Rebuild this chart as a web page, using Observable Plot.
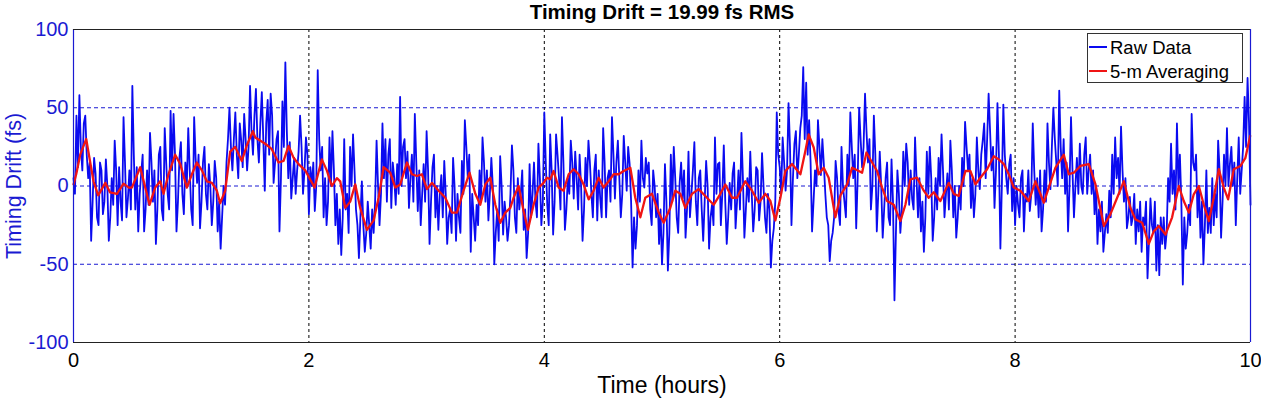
<!DOCTYPE html>
<html>
<head>
<meta charset="utf-8">
<script src="https://cdn.jsdelivr.net/npm/d3@7"></script>
<script src="https://cdn.jsdelivr.net/npm/@observablehq/plot@0.6"></script>
<style>
  body { margin: 0; background: #fff; }
  #wrap { position: relative; width: 1261px; height: 399px; overflow: hidden; font-family: "Liberation Sans", Arial, sans-serif; }
  #legend { position: absolute; left: 1087px; top: 33px; width: 156px; height: 50px; box-sizing: border-box; border: 1px solid #333; background: #fff; }
  .lg-line { position: absolute; left: 1px; width: 18px; height: 2px; }
  .lg-text { position: absolute; left: 22px; font-size: 18.5px; line-height: 20px; color: #000; white-space: nowrap; }
</style>
</head>
<body>
<div id="wrap">
  <div id="chart"></div>
  <div id="legend">
    <div class="lg-line" id="lgRawLine" style="top:12px"></div>
    <div class="lg-text" id="lgRawText" style="top:3.6px"></div>
    <div class="lg-line" id="lgAvgLine" style="top:36px"></div>
    <div class="lg-text" id="lgAvgText" style="top:27.9px"></div>
  </div>
</div>
<script>
// ---- data ----
const title = "Timing Drift = 19.99 fs RMS";
const xLabel = "Time (hours)";
const yLabel = "Timing Drift (fs)";
const seriesNames = ["Raw Data", "5-m Averaging"];
const xTicks = [0, 2, 4, 6, 8, 10];
const yTicks = [-100, -50, 0, 50, 100];
const xGrid = [2, 4, 6, 8];
const yGrid = [-50, 0, 50];

// raw samples on the 0.025 h grid (t = i * 0.025)
const rawStepHours = 0.025;
const rawValues = [
  5, 45, 58, 10, 45, 5, -35, 18, -20, 15,
  -18, 17, -35, 5, 29, -25, -10, 44, -20, 10,
  64, -15, -29, 8, -29, 10, 34, -10, -37, 20,
  -15, 37, -5, 48, 46, -29, 18, -5, 15, 37,
  -15, 44, 2, -27, 15, -5, 14, -25, 16, -29,
  -40, 0, 15, 50, 10, 47, 5, 29, 46, 10,
  64, 20, 62, 15,
  60, -3, 55, 59, 2, 30, -29, 54, 79, 5,
  -8, 18, 10, 45, -5, 31, -18, 0, -16, 74,
  10, -20, -25, 31, 35, -25, -37, -44, 30, -5,
  25, 33, -15, -46, 3, -42, -10, -40, -30, 29,
  -25, 40, 30, 20, -14, 5, 14, 57, 25, 5,
  -14, 20, 46, -16, -25, 14, 35, -37, 12, -20,
  -28, 7, 16, -37, -15, 18,
  -35, -20, 16, 42, 5, -42, -20, -12, 10, 31,
  -10, -22, 18, -50, -15, 19, -31, -20, -25, 26,
  -20, 5, -5, -28, -46, 14, -5, -10, 27, -25,
  47, -12, 33, -31, 33, 5, 44, -28, 5, 29,
  -8, 5, 20, -35, 18, 29, -5, 10, -22, -8,
  37, -20, 10, 44, -8, 29, -20, 32, -3, 14,
  -52, -40, 10, 29, -1,
  8, -15, 10, -20, -37, -50, 14, -54, 20, 25,
  -20, 2, -8, -33, 22, -5, 28, -25, 10, -35,
  16, -40, -12, 31, 14, -25, 26, -37, 2, 8,
  -27, 10, 34, -33, 5, 22, -29, 12, -22, 21,
  -20, -5, -52, -27, 47, 12, 31, -3, 53, -25,
  27, 5, 37, 76, 66, 42, -29, 10, 42, 7,
  14, -20, -48, -30, 16, -16,
  25, -10, 20, 47, 5, -27, 50, 12, 59, 15,
  -15, 45, -29, 22, -33, 5, -20, 17, -73, 10,
  -30, 22, 27, -12, -8, 31, -20, -29, -42, 22,
  25, -35, 5, 18, 33, -20, 8, 29, -20, -33,
  0, 18, 41, 10, -14, -20, 31, -2, 29, 5,
  59, 10, -14, 53, -40, 52, 5, 14, -16, -25,
  -12, 5, -29, -10, -16, 40, -12, -20,
  -29, 10, 40, -2, 50, 15, 61, 5, -5, -29,
  44, -20, 18, 27, -5, 31, 10, -5, -18, -37,
  -29, -42, -18, -3, 20, 31, 18, 38, -10, -27,
  -7, -20, -37, -29, -42, -25, -59, -8, -30, -54,
  -57, -37, -40, 5, 27, 10, 40, 20, -63, -40,
  -12, 46, 10, -20, -33, -50, 10, -14, 5, -5,
  29, -33, 20, 37, 14, 0, -25, 31, 10, 57,
  69, -12
];
// raw samples half-way between grid points (t = (i + 0.5) * 0.025)
const rawMidValues = [
  -5, 12, 25, 40, 20, 15, -10, 8, -25, 10,
  -10, 0, -20, -12, 10, 12, -22, 15, -8, -15,
  20, 12, -5, 20, -15, -12, 15, 10, -15, 25,
  -22, 15, -15, 10, 20, -10, 28, -18, 0, 10,
  -25, 18, 20, -10, 25, -15, 0, -10, 5, -10,
  -20, -12, 30, 25, 30, 20, 40, 12, 30, 25,
  35, 45, 30, 40,
  30, 40, 20, 45, 15, 35, 5, 25, 35, 28,
  5, -5, 22, 25, 10, 20, 12, 15, 0, 30,
  25, 5, -10, 0, 10, -5, -15, -20, -15, -30,
  0, 10, -25, -20, -25, -30, -25, -15, -10, 0,
  -5, 5, -10, 30, 15, -12, -5, 0, 30, 22,
  5, -10, 15, 10, -5, -10, 10, -10, 20, 0,
  -5, -20, -5, -20, -30, 0,
  -5, -30, -5, 25, 20, -5, -35, -25, -10, 15,
  10, -5, 0, -30, -35, 0, -10, -35, -5, 10,
  -30, -15, 10, -15, -30, -20, 15, -20, 5, -10,
  15, -25, 10, -10, 20, -15, 15, -15, -5, 15,
  22, -15, 0, -15, 0, 15, -20, 20, 10, -20,
  15, 5, -10, 20, 15, 5, -5, 15, 25, -10,
  -20, -25, -10, 5, 18,
  15, -25, 0, -5, -15, -30, -10, -30, -10, 5,
  -30, 15, 10, -15, -20, 10, -10, 5, -15, -10,
  0, -20, -25, -5, 15, -5, -10, -20, -15, 15,
  -10, -15, 5, -15, -10, -5, -15, 10, -10, 0,
  -30, -15, -35, -10, 20, -5, 15, 10, 25, 5,
  35, 20, 45, 30, 20, 15, -10, 0, 25, 30,
  -5, -25, -35, -20, 5, -25,
  0, -20, 0, 25, 20, 5, 30, 25, 35, 30,
  0, 20, -5, 0, -15, 15, -25, -10, -30, -5,
  -15, 0, 15, 10, -15, 5, 5, -10, -20, -5,
  5, -20, -15, 0, 10, -5, -15, 10, 0, -20,
  -15, 0, 25, 20, 5, -5, 10, 20, 40, 30,
  35, 25, 10, 20, 0, 20, -5, 20, 5, 0,
  -20, 10, -5, 10, -5, 10, 5, 10,
  -15, -10, 15, 25, 30, 0, 25, 30, 15, 0,
  10, 0, -5, 0, 20, -5, 20, 10, 0, -15,
  -10, -30, -30, -20, -5, 5, -5, 10, 5, -20,
  -25, -5, -15, -10, -20, -10, -35, -25, -10, -25,
  -20, -20, -30, -10, -5, -15, 0, -10, -20, -30,
  -25, 15, 20, 0, -10, -25, -30, -30, -25, -20,
  10, -10, 0, 0, 25, 15, 5, -5, 25, 25,
  40
];

// 5-minute average: time (h) and value (fs)
const avgTime = [
  0, 0.023, 0.057, 0.108, 0.14, 0.17, 0.21, 0.27, 0.31, 0.37, 0.425, 0.47, 0.496, 0.567, 0.646, 0.694, 0.737, 0.765, 0.807, 0.864,
  0.907, 0.963, 1.006, 1.048, 1.091, 1.133, 1.176, 1.218, 1.246, 1.289, 1.331, 1.374, 1.43, 1.473, 1.524,
  1.544, 1.629, 1.685, 1.742, 1.785, 1.827, 1.87, 1.912, 1.969, 2.048, 2.11, 2.152, 2.195, 2.238, 2.266, 2.309, 2.351, 2.394, 2.436, 2.493,
  2.55, 2.592, 2.635, 2.691, 2.734, 2.776, 2.833, 2.875, 2.918, 2.96, 3.003, 3.045, 3.102, 3.159, 3.215,
  3.258, 3.314, 3.365, 3.414, 3.456, 3.499, 3.541, 3.584, 3.626, 3.669, 3.711, 3.739, 3.782, 3.824, 3.861, 3.909, 3.952, 3.994, 4.023, 4.051,
  4.079, 4.122, 4.164, 4.207, 4.249, 4.292, 4.334, 4.377, 4.419, 4.462, 4.504, 4.547, 4.589, 4.632, 4.674, 4.731, 4.773, 4.816, 4.858,
  4.915, 4.972, 5.014, 5.07, 5.113, 5.156, 5.198, 5.255, 5.311, 5.368, 5.439, 5.496, 5.538, 5.595, 5.637, 5.708, 5.765, 5.822, 5.878, 5.921,
  5.963, 6.006, 6.048, 6.105, 6.176, 6.218, 6.246, 6.289, 6.331, 6.374, 6.416, 6.473, 6.516,
  6.573, 6.615, 6.672, 6.7, 6.737, 6.785, 6.827, 6.87, 6.912, 6.969, 7.025, 7.068, 7.11, 7.167, 7.224, 7.266, 7.309, 7.365, 7.436, 7.479,
  7.521, 7.578, 7.62, 7.663, 7.705, 7.762, 7.819, 7.861, 7.904, 7.946, 7.989, 8.045, 8.116, 8.173,
  8.244, 8.286, 8.343, 8.414, 8.456, 8.499, 8.555, 8.626, 8.683, 8.754, 8.81, 8.867, 8.924, 8.98, 9.023, 9.08, 9.136, 9.178, 9.221, 9.278,
  9.334, 9.391, 9.433, 9.476, 9.518, 9.561, 9.603, 9.646, 9.688, 9.731, 9.773, 9.81, 9.858, 9.915, 9.957, 9.997
];
const avgValue = [
  1, 7.5, 20, 30, 16, 3, -6, 2, -4, -5, 1.5, -1, -1, 12, -12, -1, 3, -5, 7.5, 20,
  14, -1, 7.5, 15, 10, 3, 2, -3, -11, -3, 22, 25, 16, 26, 35,
  31, 27, 23.5, 15, 16, 25.6, 18, 14, 10, -1, 17, 10, 0, 5, 3, -14, -10, 1, -14, -28,
  -22, -7.5, 12, 8.5, -1, 1, 15, 7.5, 6.4, 7.5, -2, 2, -3, -7.5, -17,
  -17, -3, 8.5, -5, -12, 1, 5.3, -12, -23.5, -17, -14, -7.5, 0, -16, -28, -12, -1, 2, 5.3, 4.3,
  9.6, -1, -3, 7.5, 10.7, 7.5, 1, -8.5, -3, 5.3, -1, 3, 7.5, 7.5, 9.6, 11.7, -7.5, -20, -7.5,
  -5, -17, -23.5, -14, -3, -5, -14, -5, -2, -6.4, -12, -5, 1, -7.5, -7.5, 3, -3, -10.7, -5, -9.6,
  -22, -7.5, 9.6, 14, 7.5, 22.4, 33, 24.6, 7.5, 11.7, 5.3, -20, -6,
  1, 11.7, 9.6, 8.5, 21.4, 15, 9.6, -1, -9.6, -12, -22.4, -12, 4.3, 5.3, -3, -7.5, -4, -9.6, 2, -5,
  -6.4, 9.6, 9.6, 1, 5.3, 10.7, 19, 17, 14, 7.5, -1, -3, -9.6, 3,
  -10.7, -1, 11.7, 20, 7.5, 8.5, 12.8, 14, 1, -25.6, -18, -7.5, 3, -14, -21.4, -23.5, -37, -29, -25.6, -31,
  -20, 0, -9.6, -17, -5.3, 0, -12, -22.4, -7.5, 10.7, -1, -8.5, 10.7, 12.8, 18, 32
];

// ---- styles ----
const RAW_COLOR = "#0a0af0";
const AVG_COLOR = "#f01414";
const AXIS_BLUE = "#1a1ad2";
const FONT = "'Liberation Sans', Arial, Helvetica, sans-serif";

// build the raw table: on-grid and half-step samples in time order
const raw = [];
rawValues.forEach((v, i) => {
  raw.push({t: i * rawStepHours, v});
  if (i < rawMidValues.length) raw.push({t: (i + 0.5) * rawStepHours, v: rawMidValues[i]});
});
const avg = avgTime.map((t, i) => ({t, v: avgValue[i]}));

const chart = Plot.plot({
  width: 1261,
  height: 399,
  marginTop: 29,
  marginBottom: 57,
  marginLeft: 73,
  marginRight: 11,
  style: {fontFamily: FONT, background: "#fff", overflow: "visible"},
  x: {domain: [0, 10], label: null},
  y: {domain: [-100, 100], label: null},
  marks: [
    Plot.ruleY(yGrid, {stroke: AXIS_BLUE, strokeDasharray: "4,3", strokeWidth: 1}),
    Plot.ruleX(xGrid, {stroke: "#000", strokeDasharray: "3,3", strokeWidth: 1}),
    Plot.lineY(raw, {x: "t", y: "v", stroke: RAW_COLOR, strokeWidth: 1.8}),
    Plot.lineY(avg, {x: "t", y: "v", stroke: AVG_COLOR, strokeWidth: 2.3}),
    Plot.ruleX([0, 10], {stroke: AXIS_BLUE, strokeWidth: 1.2}),
    Plot.ruleY([-100, 100], {stroke: "#222", strokeWidth: 1.2}),
    Plot.axisX({ticks: xTicks, tickSize: 0, tickPadding: 10, fontSize: 20, fill: "#000", label: null, tickFormat: d => String(d)}),
    Plot.axisY({ticks: yTicks, tickSize: 0, tickPadding: 5, fontSize: 20, fill: AXIS_BLUE, label: null, tickFormat: d => String(d)}),
    Plot.text([title], {text: d => d, frameAnchor: "top", dy: -11, textAnchor: "middle", lineAnchor: "bottom", fontSize: 20.5, fontWeight: "bold", fill: "#000"}),
    Plot.text([xLabel], {text: d => d, frameAnchor: "bottom", dy: 50, textAnchor: "middle", lineAnchor: "bottom", fontSize: 23, fill: "#000"}),
    Plot.text([yLabel], {text: d => d, frameAnchor: "left", dx: -53, rotate: -90, textAnchor: "middle", lineAnchor: "bottom", fontSize: 21.5, fill: AXIS_BLUE})
  ]
});
document.getElementById("chart").appendChild(chart);

document.getElementById("lgRawLine").style.background = RAW_COLOR;
document.getElementById("lgAvgLine").style.background = AVG_COLOR;
document.getElementById("lgRawText").textContent = seriesNames[0];
document.getElementById("lgAvgText").textContent = seriesNames[1];
</script>
</body>
</html>
